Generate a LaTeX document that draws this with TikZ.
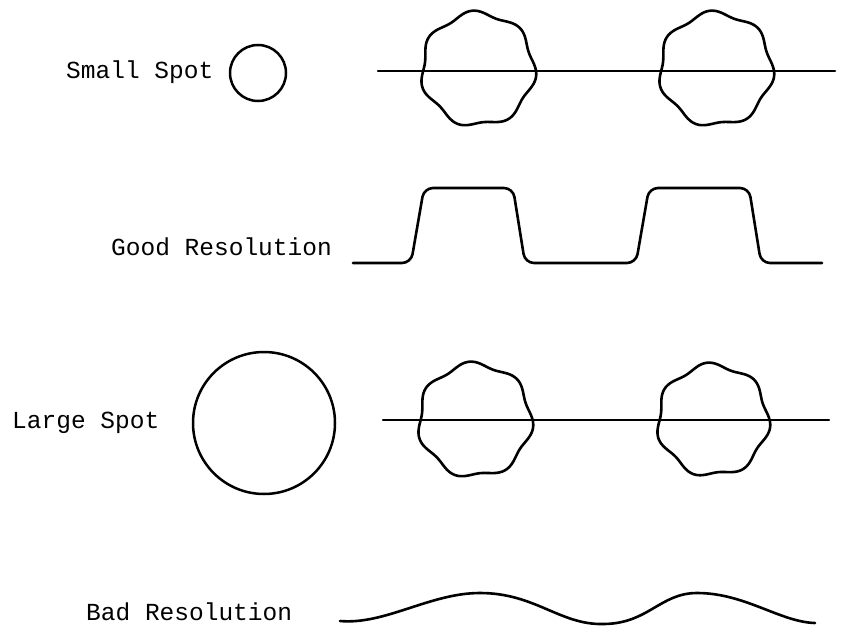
\documentclass[tikz,border=0pt]{standalone}
\usepackage{fontspec}
\newfontfamily\plotfont{Liberation Mono}
\begin{document}
\begin{tikzpicture}[x=1pt,y=-1pt,
  lbl/.style={anchor=west,inner sep=0pt,font=\plotfont\fontsize{24.5}{27}\selectfont},
  thick line/.style={line width=2.6pt,line join=round,line cap=round},
  axis line/.style={line width=2.2pt,line cap=round},
  spot/.style={circle,draw,line width=2.5pt,inner sep=0pt}]
\useasboundingbox (0,0) rectangle (844,629);
% labels
\node[lbl] (tsmall) at (66,72) {Small Spot};
\node[lbl] (tgood) at (111,247) {Good Resolution};
\node[lbl] (tlarge) at (12,423) {Large Spot};
\node[lbl] (tbad) at (86,612) {Bad Resolution};
% spots
\node[spot,minimum size=56pt] (ssmall) at (258,73) {};
\node[spot,minimum size=142pt] (slarge) at (264,423) {};
% row 1 scan line and blobs
\coordinate (l1a) at (378,71);
\coordinate (l1b) at (835,71);
\draw[axis line] (l1a) -- (l1b);
\draw[thick line] plot[smooth cycle,domain=0:355,samples=72]
  ({478+cos(\x)*(56+2.6*sin(7*\x+40))},{69+sin(\x)*(56+2.6*sin(7*\x+40))});
\draw[thick line] plot[smooth cycle,domain=0:355,samples=72]
  ({716+cos(\x)*(56+2.6*sin(7*\x+40))},{69+sin(\x)*(56+2.6*sin(7*\x+40))});
% row 2 good resolution waveform
\draw[thick line,rounded corners=9pt] (353,263) -- (411,263) -- (424,188) -- (513,188)
  -- (525,263) -- (636,263) -- (649,188) -- (749,188) -- (761,263) -- (822,263);
% row 3 scan line and blobs
\coordinate (l3a) at (383,420);
\coordinate (l3b) at (829,420);
\draw[axis line] (l3a) -- (l3b);
\draw[thick line] plot[smooth cycle,domain=0:355,samples=72]
  ({475+cos(\x)*(56+2.6*sin(7*\x+40))},{420+sin(\x)*(56+2.6*sin(7*\x+40))});
\draw[thick line] plot[smooth cycle,domain=0:355,samples=72]
  ({713+cos(\x)*(55+2.6*sin(7*\x+40))},{420+sin(\x)*(55+2.6*sin(7*\x+40))});
% row 4 bad resolution waveform
\draw[thick line] (340,621) .. controls (385,625) and (430,593) .. (480,593)
  .. controls (535,593) and (560,625) .. (603,624)
  .. controls (648,624) and (660,593) .. (697,593)
  .. controls (745,593) and (780,622) .. (815,623);
\end{tikzpicture}
\end{document}
